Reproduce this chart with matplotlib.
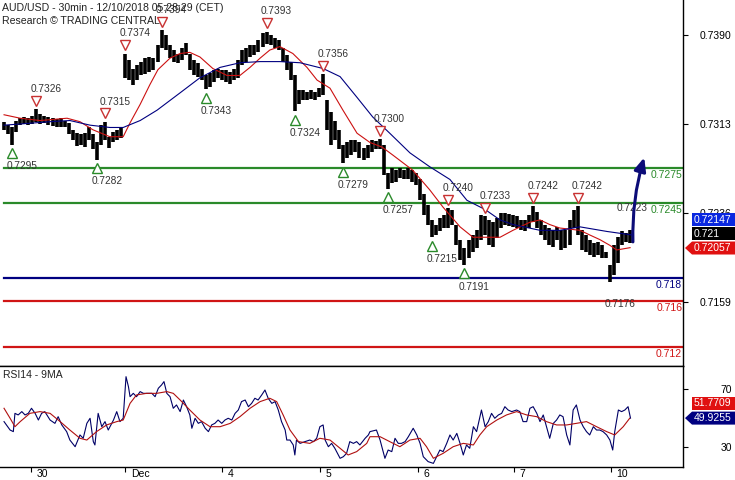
import matplotlib
matplotlib.use('Agg')
import matplotlib.pyplot as plt
import numpy as np
from matplotlib.patches import Polygon
from matplotlib.transforms import IdentityTransform, offset_copy

plt.rcParams['font.family'] = ['Liberation Sans', 'DejaVu Sans']

# hourly bars (high / low), AUD/USD
bar_hi = [.7315, .7312, .7310, .7316, .7318, .7319, .7318, .7320, .7326, .7322,
          .7320, .7319, .7318, .7317, .7318, .7316, .7314, .7308, .7305, .7304,
          .7305, .7310, .7304, .7297, .7312, .7315, .7302, .7306, .7308, .7310,
          .7374, .7368, .7361, .7364, .7367, .7370, .7371, .7370, .7381, .7394,
          .7390, .7381, .7377, .7374, .7379, .7383, .7374, .7368, .7366, .7361,
          .7355, .7357, .7360, .7361, .7360, .7360, .7358, .7361, .7368, .7377,
          .7379, .7381, .7381, .7386, .7392, .7393, .7390, .7387, .7386, .7379,
          .7373, .7367, .7355, .7342, .7342, .7341, .7342, .7341, .7344, .7356,
          .7334, .7323, .7316, .7308, .7295, .7297, .7299, .7299, .7297, .7292,
          .7295, .7299, .7298, .7300, .7295, .7271, .7275, .7273, .7275, .7273,
          .7275, .7273, .7271, .7265, .7252, .7243, .7230, .7226, .7232, .7234,
          .7240, .7239, .7226, .7213, .7206, .7213, .7217, .7221, .7234, .7233,
          .7230, .7228, .7232, .7236, .7236, .7235, .7234, .7233, .7230, .7230,
          .7234, .7242, .7237, .7230, .7226, .7223, .7221, .7224, .7221, .7221,
          .7230, .7239, .7242, .7221, .7217, .7213, .7210, .7211, .7208, .7202,
          .7191, .7208, .7215, .7220, .7219, .7221]
bar_lo = [.7308, .7304, .7295, .7306, .7312, .7313, .7312, .7313, .7315, .7313,
          .7314, .7312, .7311, .7310, .7310, .7310, .7304, .7299, .7294, .7295,
          .7293, .7299, .7291, .7282, .7295, .7299, .7292, .7297, .7299, .7301,
          .7353, .7351, .7347, .7351, .7355, .7356, .7358, .7360, .7367, .7379,
          .7377, .7370, .7367, .7366, .7368, .7373, .7360, .7355, .7354, .7351,
          .7343, .7345, .7349, .7353, .7351, .7349, .7348, .7351, .7353, .7364,
          .7367, .7371, .7373, .7375, .7380, .7382, .7381, .7379, .7377, .7367,
          .7360, .7351, .7324, .7330, .7334, .7334, .7335, .7334, .7336, .7338,
          .7308, .7295, .7299, .7291, .7279, .7284, .7286, .7289, .7284, .7282,
          .7284, .7289, .7291, .7291, .7269, .7257, .7262, .7263, .7266, .7265,
          .7265, .7263, .7260, .7247, .7234, .7226, .7215, .7217, .7220, .7223,
          .7223, .7226, .7208, .7195, .7191, .7197, .7202, .7206, .7213, .7217,
          .7208, .7207, .7214, .7223, .7226, .7225, .7224, .7223, .7221, .7220,
          .7223, .7228, .7223, .7217, .7213, .7208, .7207, .7213, .7204, .7206,
          .7208, .7223, .7217, .7204, .7202, .7200, .7198, .7200, .7197, .7197,
          .7176, .7182, .7193, .7208, .7211, .7210]
last_close = 0.7211

# moving averages (bar index, price)
red_ma_t = [0, 4, 8.9, 15.6, 18.8, 22, 26.2, 29.5, 31.2, 33.7, 36.1, 38.1, 41.1, 43.6, 46, 48.5,
            51.7, 55.2, 58.4, 60.9, 63.4, 65.8, 68.3, 71.5, 75, 77.5, 80.7, 83.9, 87.4, 90.6, 93.6, 96.3,
            101.2, 105.4, 108.7, 112.9, 116.1, 119.1, 122.8, 126, 130.2, 132.7, 135.1, 137.6, 142.6, 145,
            147.5, 150, 151.7, 155]
red_ma = [.7321, .7318, .7316, .7318, .7315, .7308, .7302, .7302, .7314, .7330, .7347, .7360, .7370, .7374,
          .7375, .7371, .7361, .7355, .7355, .7362, .7370, .7377, .7380, .7374, .7362, .7351, .7344, .7325,
          .7305, .7297, .7293, .7286, .7273, .7256, .7241, .7224, .7215, .7215, .7215, .7221, .7228, .7230,
          .7226, .7223, .7221, .7217, .7213, .7208, .7204, .7206]
blue_ma_t = [0, 4, 11.4, 16.3, 21.3, 26.2, 29.5, 33.7, 37.9, 43.6, 48.5, 53.5, 58.4, 63.4, 68.3, 73.3,
             79, 83.2, 87.4, 91.3, 95.5, 100.5, 105.4, 110.4, 114.6, 119.1, 122.8, 126, 132.7, 137.6,
             142.6, 149.3, 155.4]
blue_ma = [.7312, .7313, .7315, .7316, .7312, .7310, .7310, .7316, .7325, .7340, .7353, .7362, .7366,
           .7367, .7367, .7366, .7361, .7354, .7336, .7319, .7305, .7288, .7276, .7265, .7247, .7239,
           .7230, .7226, .7221, .7221, .7224, .7220, .7217]

# swing highs / lows
peak_idx = [8, 25, 30, 39, 65, 79, 93, 110, 119, 131, 142]
peak_val = [.7326, .7315, .7374, .7394, .7393, .7356, .7300, .7240, .7233, .7242, .7242]
trough_idx = [2, 23, 50, 72, 84, 95, 106, 114]
trough_val = [.7295, .7282, .7343, .7324, .7279, .7257, .7215, .7191]
extra_hi = [(153, .7223)]
extra_lo = [(150, .7176)]

green_levels = [0.7275, 0.7245]
blue_levels = [0.718]
red_levels = [0.716, 0.712]
arrow_target = 0.7284

price_ticks = [0.7390, 0.7313, 0.7236, 0.7159]
day_ticks = [6.7, 30, 54, 78.2, 102.5, 126.2, 150.2]
day_labels = ['30', 'Dec', '4', '5', '6', '7', '10']

# RSI 14 and its 9 period MA
rsi_t = [0, 1.5, 2.3, 2.7, 3.5, 4.4, 5.2, 6, 6.8, 7.7, 8.5, 9.3, 10.1, 11.4, 12.6, 13.4, 14.3, 15.5, 16.3,
         17.6, 18.8, 19.6, 20.5, 21.3, 22.1, 22.5, 23.3, 24.2, 25, 25.8, 27.1, 27.9, 28.7, 29.5, 30.2,
         30.8, 31.2, 32, 32.8, 33.7, 34.5, 35.3, 36.6, 37.4, 38.2, 39, 39.6, 40.3, 41.1, 41.9, 42.7,
         43.6, 44.4, 45.2, 46, 46.5, 47.3, 48.1, 48.9, 49.8, 50.6, 51.4, 52.2, 53, 53.9, 54.7, 55.5,
         56.4, 57.2, 58, 58.8, 59.7, 60.5, 61.3, 62.1, 62.9, 63.8, 64.6, 65.4, 66.3, 67.1, 67.9, 68.7,
         69.6, 70, 70.8, 71.6, 72, 72.4, 73.3, 74.5, 75.7, 76.6, 77.4, 78.2, 79, 79.5, 80.3, 81.1, 81.9,
         83.2, 84, 84.8, 85.6, 86.5, 87.3, 88.1, 89.4, 90.2,
         90.6, 92.2, 93.1, 94.3, 95.1, 96, 96.8, 97.6, 98.4, 99.3, 100.1, 101.3, 102.2, 103, 103.8,
         105, 106.3, 107.1, 107.9, 108.7, 109.6, 110.4, 111.2, 112.1, 112.9, 113.7, 114.5, 115.3, 116.2,
         117, 118.2, 119.1, 119.9, 120.7, 121.5, 122.4, 123.2, 124, 124.8, 125.7, 126.9, 127.7, 128.5,
         129.4, 130.2, 131, 131.9, 132.7, 133.5, 134.3, 135.1, 136, 136.8, 137.6, 138.4, 139.3, 140.1,
         140.9, 141.7, 142.6, 143.4, 144.2, 145, 145.9, 146.7, 147.5, 148.3, 149.2, 150, 150.7, 151.2,
         152.1, 152.9, 153.7, 154.5, 155.1]
rsi = [47.5, 41.7, 40.6, 53.2, 52.1, 54.4, 52.1, 53.2, 56.7, 53.2, 48.6, 53.2, 54.4, 48.6, 46.3, 50.9,
       45.2, 40.6, 34.8, 30.2, 38.3, 36.0, 46.3, 49.8, 33.7, 31.4, 53.2, 44.0, 47.5, 41.7, 48.6, 54.4,
       47.5, 49.8, 78.5, 71.6, 64.7, 67.0, 64.7, 68.2, 67.0, 67.0, 67.0, 64.7, 70.5, 72.8, 75.1, 67.0,
       64.7, 56.7, 59.0, 54.4, 62.4, 57.8, 52.1, 42.9, 49.8, 46.3, 47.5, 42.9, 40.6, 45.2, 46.3, 48.6,
       46.3, 48.6, 49.8, 48.6, 53.2, 55.5, 61.3, 62.4, 57.8, 60.1, 63.6, 62.4, 65.9, 69.3, 63.6, 60.1,
       61.3, 55.5, 47.5, 41.7, 34.8, 34.8, 31.4, 24.5, 34.8, 32.5, 33.7, 34.8, 33.7, 36.0, 44.0, 45.2,
       34.8, 30.2, 32.5, 29.1, 22.2, 23.3, 25.6, 33.7, 32.5, 33.7, 31.4, 36.0, 38.3,
       40.6, 41.7, 34.8, 22.2, 27.9, 26.8, 36.0, 32.5, 32.5, 33.7, 37.1, 42.9, 38.3, 32.5, 23.3, 19.9,
       18.7, 23.3, 27.9, 26.8, 32.5, 38.3, 34.8, 39.4, 32.5, 24.5, 31.4, 29.1, 44.0, 40.6, 55.5, 44.0,
       47.5, 53.2, 49.8, 52.1, 53.2, 57.8, 55.5, 54.4, 55.5, 54.4, 47.5, 47.5, 56.7, 57.8, 53.2, 47.5,
       52.1, 44.0, 36.0, 46.3, 48.6, 52.1, 50.9, 38.3, 31.4, 55.5, 59.0, 48.6, 44.0, 40.6, 38.3, 44.0,
       41.7, 41.7, 40.6, 38.3, 34.8, 27.9, 40.6, 55.5, 54.4, 55.5, 57.8, 49.9]
rsi_ma_t = [0, 1.5, 2.7, 4, 6.4, 8.9, 11.4, 13.9, 16.3, 18.8, 20.5, 22.9, 25.4, 27.9, 29.5, 31.2, 32.8,
            35.3, 37.8, 40.3, 41.9, 43.6, 46, 48.5, 51, 53.5, 56, 58.4, 60.9, 63.4, 65.8, 67.5, 69.1,
            70.8, 72.9, 75.7, 78.2, 80.7, 83.2, 85.2, 87.3, 89.8, 90.6, 93.1, 95.5, 98, 100.5, 103,
            104.6, 106.3, 108.7, 111.2, 113.7, 116.2, 117.8, 119.5, 122, 124.4, 126.9, 129.4, 131.9,
            134.3, 136.8, 139.3, 141.7, 144.2, 146.7, 149.2, 151.2, 153.3, 154.9]
rsi_ma = [56.7, 49.8, 44.0, 47.5, 53.2, 54.4, 53.2, 47.5, 41.7, 36.0, 34.8, 40.6, 45.2, 47.5, 48.6, 60.1,
          65.9, 67.0, 67.0, 68.2, 67.0, 62.4, 55.5, 48.6, 44.0, 44.0, 46.3, 50.9, 56.7, 61.3, 63.6, 61.3,
          52.1, 41.7, 33.7, 32.5, 36.0, 34.8, 29.1, 24.5, 26.8, 32.5, 37.1, 37.1, 33.7, 30.2, 34.8, 36.0,
          30.2, 22.2, 25.6, 30.2, 32.5, 31.4, 38.3, 44.0, 48.6, 52.1, 54.4, 52.1, 50.9, 47.5, 45.2, 45.2,
          46.3, 47.5, 44.0, 40.6, 38.3, 44.0, 49.8]
rsi_ticks = [70, 30]

NAVY = '#000080'
GREEN = '#2a8a2a'
RED = '#d01515'
TXT = '#333333'

fig = plt.figure(figsize=(7.35, 4.8), dpi=100)
ax = fig.add_axes([0, 114 / 480, 683 / 735, 366 / 480])
ax2 = fig.add_axes([0, 13 / 480, 683 / 735, 101 / 480])

# price panel
t = np.arange(len(bar_hi))
ax.vlines(t, bar_lo, bar_hi, color='black', lw=2.6, zorder=2)
ax.plot(red_ma_t, red_ma, color='#cc1111', lw=0.8, zorder=3)
ax.plot(blue_ma_t, blue_ma, color=NAVY, lw=0.8, zorder=3)

lab_off = offset_copy(ax.transData, fig=fig, x=0, y=-5, units='points')
for levels, col in [(green_levels, GREEN), (blue_levels, NAVY), (red_levels, RED)]:
    for v in levels:
        ax.axhline(v, xmin=4 / 683, color=col, lw=1.6, zorder=1)
        ax.text(167.9, v, ('%.4f' % v).rstrip('0'), color=col, fontsize=7.5, ha='right', va='center',
                transform=lab_off)

tri_up = offset_copy(ax.transData, fig=fig, y=6, units='points')
tri_dn = offset_copy(ax.transData, fig=fig, y=-6, units='points')
ax.plot(peak_idx, peak_val, 'v', ms=7, mfc='white', mec='#c83232', mew=1.0, transform=tri_up, zorder=4)
ax.plot(trough_idx, trough_val, '^', ms=7, mfc='white', mec=GREEN, mew=1.0, transform=tri_dn, zorder=4)
for i, v in list(zip(peak_idx, peak_val)) + extra_hi:
    ax.annotate('%.4f' % v, (i, v), xytext=(-4, 14.5), textcoords='offset points',
                fontsize=7.3, color=TXT, ha='left', va='center', zorder=5)
for i, v in list(zip(trough_idx, trough_val)) + extra_lo:
    ax.annotate('%.4f' % v, (i, v), xytext=(-4, -15.5), textcoords='offset points',
                fontsize=7.3, color=TXT, ha='left', va='center', zorder=5)

ax.annotate('', xy=(len(bar_hi) + 2.5, arrow_target), xytext=(len(bar_hi) - 0.3, last_close),
            arrowprops=dict(arrowstyle='-|>,head_length=0.8,head_width=0.35', color='#0c0c78', lw=2.2,
                            shrinkA=0, shrinkB=0, connectionstyle='arc3,rad=-0.08'), zorder=6)

ax.set_xlim(-1, 168.1)
ax.set_ylim(0.71036, 0.74203)
ax.set_xticks([])
ax.yaxis.tick_right()
ax.set_yticks(price_ticks)
ax.set_yticklabels(['%.4f' % v for v in price_ticks])
ax.tick_params(axis='y', length=3.6, width=0.8, pad=31.5, labelsize=7.5)
plt.setp(ax.get_yticklabels(), ha='right')
for s in ['left', 'top']:
    ax.spines[s].set_visible(False)
for s in ['right', 'bottom']:
    ax.spines[s].set_linewidth(1.0)

# RSI panel
ax2.plot(rsi_t, rsi, color='#000066', lw=0.8)
ax2.plot(rsi_ma_t, rsi_ma, color='#b01010', lw=0.8)
ax2.set_xlim(-1, 168.1)
ax2.set_ylim(16.2, 85.86)
ax2.yaxis.tick_right()
ax2.set_yticks(rsi_ticks)
ax2.set_yticklabels([str(v) for v in rsi_ticks])
ax2.tick_params(axis='y', length=3.6, width=0.8, pad=31.5, labelsize=7.5)
plt.setp(ax2.get_yticklabels(), ha='right')
ax2.set_xticks(day_ticks)
ax2.set_xticklabels([''] * len(day_ticks))
ax2.tick_params(axis='x', length=3.6, width=0.8)
date_tr = offset_copy(ax2.get_xaxis_transform(), fig=fig, x=4, y=-5, units='points')
for d, lab in zip(day_ticks, day_labels):
    ax2.text(d, 0, lab, transform=date_tr, fontsize=7.5, ha='left', va='center', clip_on=False)
ax2.spines['left'].set_visible(False)
for s in ['right', 'bottom', 'top']:
    ax2.spines[s].set_linewidth(1.0)

fig.text(3 / 735, 1 - 375 / 480, 'RSI14 - 9MA', fontsize=7.5, color='#222222', va='center')
fig.text(2 / 735, 1 - 8 / 480, 'AUD/USD - 30min - 12/10/2018 05:28:29 (CET)', fontsize=7.6,
         color='#222222', va='center')
fig.text(2 / 735, 1 - 21 / 480, 'Research \u00a9 TRADING CENTRAL', fontsize=7.6, color='#222222',
         va='center')


def value_tag(axis, val, label, fc, tc='white', pointer=False):
    y = axis.transData.transform((0, val))[1]
    h = 6.5
    verts = [(692, y + h), (735, y + h), (735, y - h), (692, y - h)]
    if pointer:
        verts = [(685, y)] + verts
    fig.add_artist(Polygon(verts, closed=True, fc=fc, ec='none', transform=IdentityTransform()))
    fig.text(694 / 735, y / 480, label, color=tc, fontsize=7.5, ha='left', va='center')


value_tag(ax, 0.7230, '0.72147', '#0a28e0')
value_tag(ax, 0.7218, '0.721', 'black')
value_tag(ax, 0.72057, '0.72057', '#e01010', pointer=True)
value_tag(ax2, 60.3, '51.7709', '#e01010')
value_tag(ax2, 49.9255, '49.9255', NAVY, pointer=True)

fig.savefig('out.png', dpi=100)
